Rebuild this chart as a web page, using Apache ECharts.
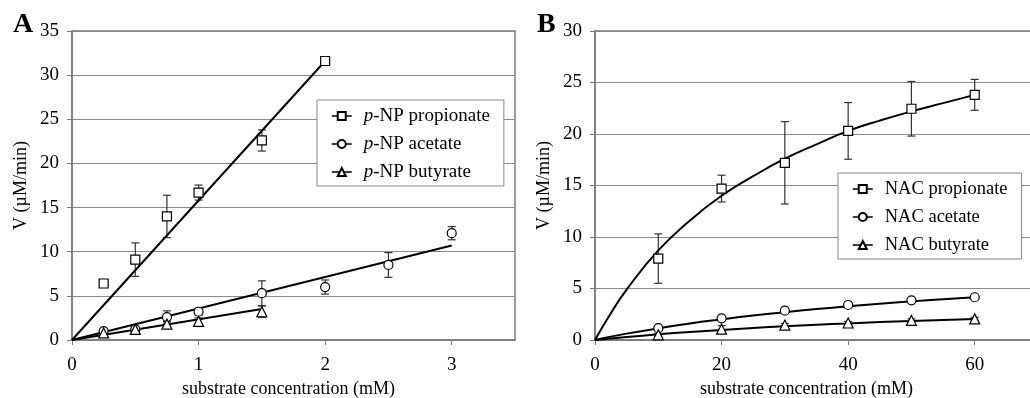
<!DOCTYPE html>
<html>
<head>
<meta charset="utf-8">
<script src="https://cdn.jsdelivr.net/npm/echarts@6/dist/echarts.min.js"></script>
<style>
  html, body { margin: 0; padding: 0; background: #fff; }
  #chart { width: 1030px; height: 398px; }
</style>
</head>
<body>
<div id="chart"></div>
<script>
// panel A: p-NP esters
var xA_prop = [0.25, 0.5, 0.75, 1, 1.5, 2];
var yA_prop = [6.4, 9.1, 14.0, 16.7, 22.6, 31.6];
var eA_prop = [0.35, 1.9, 2.4, 0.85, 1.2, 0.2];
var xA_ac = [0.25, 0.5, 0.75, 1, 1.5, 2, 2.5, 3];
var yA_ac = [1.0, 1.2, 2.6, 3.2, 5.3, 6.0, 8.5, 12.1];
var eA_ac = [0.3, 0.3, 0.7, 0.4, 1.4, 0.8, 1.4, 0.75];
var xA_but = [0.25, 0.5, 0.75, 1, 1.5];
var yA_but = [0.8, 1.2, 1.8, 2.1, 3.2];
var eA_but = [0.3, 0.2, 0.3, 0.4, 0.65];
// fitted lines (end points)
var fitA_prop = [[0, 0], [2, 31.6]];
var fitA_ac = [[0, 0], [3, 10.7]];
var fitA_but = [[0, 0], [1.5, 3.5]];

// panel B: NAC esters
var xB = [10, 20, 30, 40, 50, 60];
var yB_prop = [7.9, 14.7, 17.2, 20.3, 22.45, 23.8];
var eB_prop = [2.4, 1.3, 4.0, 2.75, 2.65, 1.5];
var yB_ac = [1.15, 2.1, 2.85, 3.4, 3.85, 4.15];
var eB_ac = [0.15, 0.15, 0.2, 0.2, 0.15, 0.15];
var yB_but = [0.5, 1.05, 1.45, 1.65, 1.9, 2.05];
var eB_but = [0.15, 0.35, 0.15, 0.15, 0.15, 0.15];
// fitted curves
var curveX = [0, 2.5, 5, 10, 15, 20, 25, 30, 35, 40, 45, 50, 55, 60];
var curveB_prop = [0, 2.6, 4.9, 8.7, 11.6, 14.0, 15.9, 17.6, 19.0, 20.3, 21.3, 22.2, 23.0, 23.8];
var curveB_ac = [0, 0.32, 0.62, 1.13, 1.6, 2.0, 2.37, 2.7, 3.0, 3.27, 3.52, 3.75, 3.96, 4.15];
var curveB_but = [0, 0.15, 0.29, 0.55, 0.78, 0.98, 1.17, 1.33, 1.48, 1.61, 1.74, 1.85, 1.95, 2.05];

var namesA = ["p-NP propionate", "p-NP acetate", "p-NP butyrate"];
var namesB = ["NAC propionate", "NAC acetate", "NAC butyrate"];

var FONT = "Liberation Serif";
var myChart = echarts.init(document.getElementById("chart"));

function pairs(xs, ys) {
  return xs.map(function (x, i) { return [x, ys[i]]; });
}
function bars(xs, ys, es) {
  return xs.map(function (x, i) { return [x, ys[i] - es[i], ys[i] + es[i]]; });
}

function errSeries(idx, data) {
  return {
    type: "custom",
    xAxisIndex: idx,
    yAxisIndex: idx,
    silent: true,
    z: 1,
    encode: { x: 0, y: [1, 2] },
    renderItem: function (params, api) {
      var lo = api.coord([api.value(0), api.value(1)]);
      var hi = api.coord([api.value(0), api.value(2)]);
      var w = 4;
      var st = { stroke: "#333", lineWidth: 1.2 };
      return {
        type: "group",
        children: [
          { type: "line", shape: { x1: lo[0], y1: lo[1], x2: hi[0], y2: hi[1] }, style: st },
          { type: "line", shape: { x1: lo[0] - w, y1: lo[1], x2: lo[0] + w, y2: lo[1] }, style: st },
          { type: "line", shape: { x1: hi[0] - w, y1: hi[1], x2: hi[0] + w, y2: hi[1] }, style: st },
        ],
      };
    },
    data: data,
  };
}

function pointSeries(idx, name, symbol, size, data) {
  return {
    name: name,
    type: "line",
    xAxisIndex: idx,
    yAxisIndex: idx,
    symbol: symbol,
    symbolSize: size,
    showAllSymbol: true,
    z: 3,
    itemStyle: { color: "#fff", borderColor: "#000", borderWidth: 1.2 },
    lineStyle: { opacity: 0 },
    data: data,
  };
}

function fitSeries(idx, data) {
  return {
    type: "line",
    xAxisIndex: idx,
    yAxisIndex: idx,
    symbol: "none",
    smooth: idx === 1,
    silent: true,
    z: 2,
    lineStyle: { color: "#000", width: 2 },
    data: data,
  };
}

var axisLine = { lineStyle: { color: "#7a7a7a", width: 1.5 } };
var axisTick = { inside: false, length: 5, lineStyle: { color: "#7a7a7a" } };
var splitLine = { show: true, lineStyle: { color: "#8a8a8a", width: 1 } };
var labelStyle = { fontFamily: FONT, fontSize: 19, color: "#000" };

function xAxis(idx, max, interval, pad) {
  return {
    gridIndex: idx,
    type: "value",
    min: 0,
    max: max,
    interval: interval,
    name: "substrate concentration (mM)",
    nameLocation: "middle",
    nameGap: 40,
    nameTextStyle: { fontFamily: FONT, fontSize: 18, color: "#000", padding: pad },
    axisLine: axisLine,
    axisTick: axisTick,
    splitLine: { show: false },
    axisLabel: Object.assign({ margin: 16, showMaxLabel: false }, labelStyle),
  };
}

function yAxis(idx, max) {
  return {
    gridIndex: idx,
    type: "value",
    min: 0,
    max: max,
    interval: 5,
    name: "V (\u00b5M/min)",
    nameLocation: "middle",
    nameGap: 42,
    nameTextStyle: { fontFamily: FONT, fontSize: 18, color: "#000" },
    axisLine: axisLine,
    axisTick: axisTick,
    splitLine: splitLine,
    axisLabel: Object.assign({ margin: 13 }, labelStyle),
  };
}

function legend(names, left, top, size, rich) {
  return {
    data: names,
    orient: "vertical",
    left: left,
    top: top,
    itemWidth: 20,
    itemHeight: 10,
    itemGap: 8,
    padding: [6, 14, 4, 14],
    borderColor: "#888",
    borderWidth: 1,
    backgroundColor: "#fff",
    lineStyle: { color: "#000", width: 1.5, opacity: 1 },
    textStyle: {
      fontFamily: FONT,
      fontSize: size,
      lineHeight: 20,
      color: "#000",
      padding: [0, 0, 0, 7],
      rich: { i: { fontFamily: FONT, fontSize: size, fontStyle: "italic", color: "#000" } },
    },
    formatter: rich
      ? function (n) { return "{i|p}" + n.slice(1); }
      : function (n) { return n; },
  };
}

var titleStyle = { fontFamily: FONT, fontSize: 28, fontWeight: "bold", color: "#000" };

var option = {
  animation: false,
  title: [
    { text: "A", left: 13, top: 11, padding: 0, textStyle: titleStyle },
    { text: "B", left: 537, top: 11, padding: 0, textStyle: titleStyle },
  ],
  grid: [
    { left: 72, top: 31, width: 443, height: 309, outerBoundsMode: "none", show: true, borderColor: "#7a7a7a", borderWidth: 1.5 },
    { left: 595, top: 31, width: 443, height: 309, outerBoundsMode: "none", show: true, borderColor: "#7a7a7a", borderWidth: 1.5 },
  ],
  xAxis: [xAxis(0, 3.5, 1, [0, 10, 0, 0]), xAxis(1, 70, 20, [0, 20, 0, 0])],
  yAxis: [yAxis(0, 35), yAxis(1, 30)],
  legend: [legend(namesA, 317, 100, 19, true), legend(namesB, 838, 173, 18.5, false)],
  series: [
    errSeries(0, bars(xA_prop, yA_prop, eA_prop)),
    errSeries(0, bars(xA_ac, yA_ac, eA_ac)),
    errSeries(0, bars(xA_but, yA_but, eA_but)),
    fitSeries(0, fitA_prop),
    fitSeries(0, fitA_ac),
    fitSeries(0, fitA_but),
    pointSeries(0, namesA[0], "rect", 9, pairs(xA_prop, yA_prop)),
    pointSeries(0, namesA[1], "circle", 9, pairs(xA_ac, yA_ac)),
    pointSeries(0, namesA[2], "triangle", 10, pairs(xA_but, yA_but)),

    errSeries(1, bars(xB, yB_prop, eB_prop)),
    errSeries(1, bars(xB, yB_ac, eB_ac)),
    errSeries(1, bars(xB, yB_but, eB_but)),
    fitSeries(1, pairs(curveX, curveB_prop)),
    fitSeries(1, pairs(curveX, curveB_ac)),
    fitSeries(1, pairs(curveX, curveB_but)),
    pointSeries(1, namesB[0], "rect", 9, pairs(xB, yB_prop)),
    pointSeries(1, namesB[1], "circle", 9, pairs(xB, yB_ac)),
    pointSeries(1, namesB[2], "triangle", 10, pairs(xB, yB_but)),
  ],
};

myChart.setOption(option);
</script>
</body>
</html>
